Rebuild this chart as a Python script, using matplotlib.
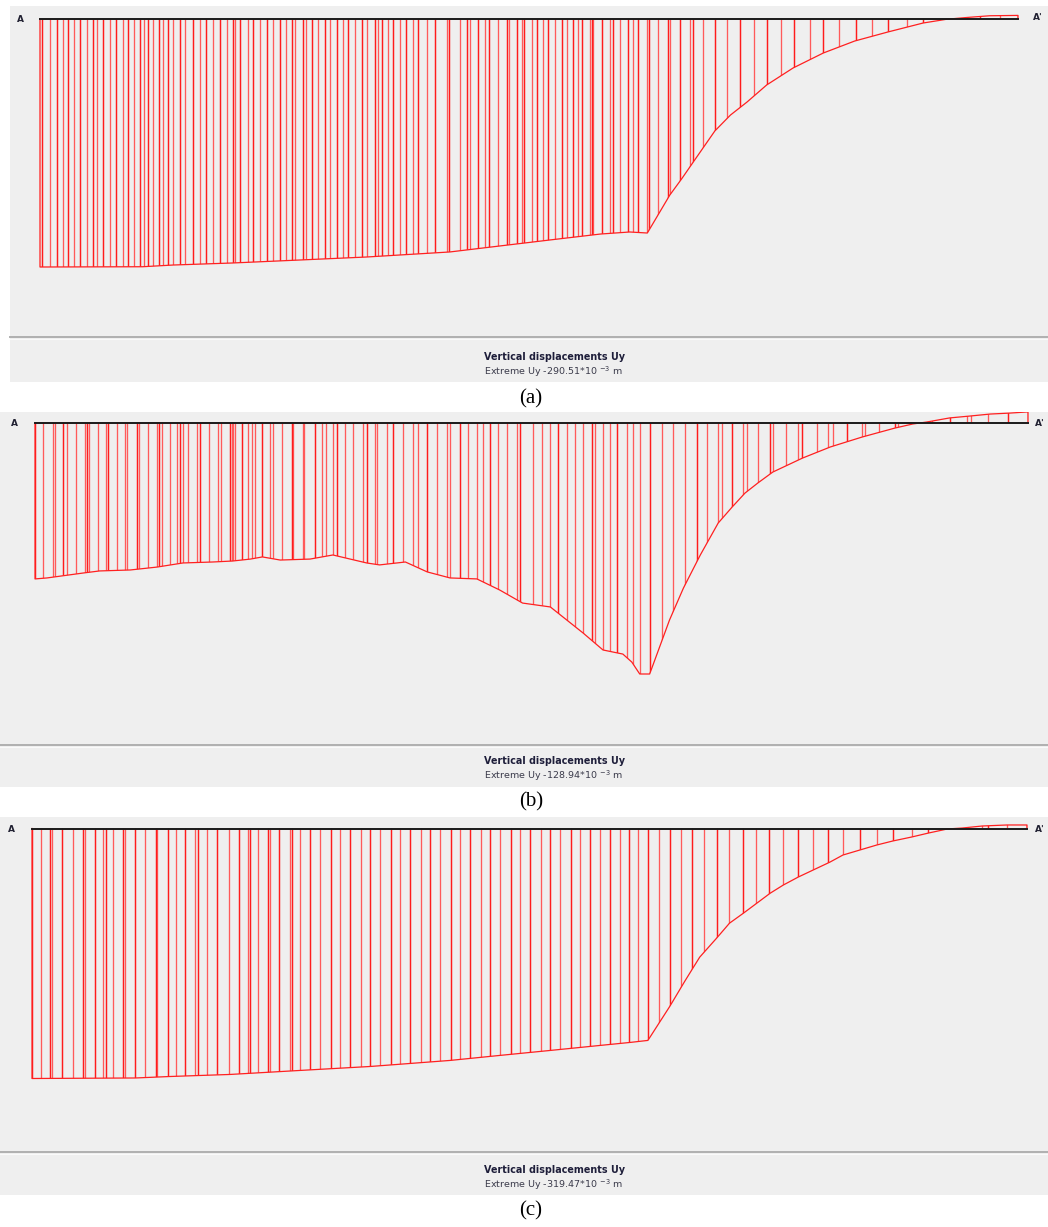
import matplotlib
matplotlib.use("Agg")
import matplotlib.pyplot as plt
from matplotlib.patches import Rectangle, Polygon

W, H = 1048, 1227
SECTION_LENGTH = 100.0  # m, A -> A'

# ---------------------------------------------------------------------
# data: distance along A-A' (m) and vertical displacement Uy (mm)
# ---------------------------------------------------------------------
dist_a = [0.0, 10.5, 13.6, 19.7, 26.6, 33.4, 41.9, 47.0, 52.1, 57.3, 60.3, 62.1, 64.4, 65.6,
          66.8, 69.0, 70.6, 72.3, 74.3, 77.0, 80.1, 83.3, 86.7, 90.3, 92.7, 94.8, 97.1, 100.0]
uy_a = [-290.51, -290.2, -288.2, -285.8, -282.3, -278.8, -272.9, -265.9, -258.9, -251.9, -249.5,
        -250.7, -206.2, -187.4, -167.5, -131.2, -112.5, -97.2, -77.3, -57.4, -39.8, -25.8, -15.2,
        -4.7, -0.3, 1.8, 3.8, 4.2]
nodes_a = [0.2, 1.0, 1.7, 2.4, 2.9, 3.5, 4.1, 4.8, 5.4, 5.8, 6.4, 7.2, 7.8, 8.5, 9.0, 9.6, 10.2,
           10.6, 11.0, 11.6, 12.2, 12.6, 13.1, 13.6, 14.3, 14.8, 15.6, 16.4, 17.0, 17.7, 18.4,
           19.1, 19.7, 19.9, 20.4, 21.3, 21.8, 22.5, 23.2, 23.8, 24.5, 25.2, 25.8, 26.1, 26.9,
           27.2, 27.8, 28.4, 29.1, 29.7, 30.4, 31.0, 31.5, 32.2, 32.9, 33.4, 34.3, 34.6, 35.0,
           35.6, 36.1, 36.8, 37.4, 38.1, 38.7, 39.6, 40.4, 41.6, 41.8, 42.9, 43.7, 44.0, 44.8,
           45.5, 45.9, 46.8, 47.8, 48.0, 48.8, 49.3, 49.5, 50.3, 50.8, 51.4, 51.9, 52.7, 53.4,
           53.9, 54.5, 55.0, 55.4, 56.2, 56.4, 56.5, 57.5, 58.3, 58.6, 59.3, 60.1, 60.6, 61.1,
           62.1, 62.3, 63.2, 64.2, 64.4, 65.4, 66.5, 66.8, 67.8, 69.0, 70.2, 71.6, 73.0, 74.3,
           75.8, 77.1, 78.7, 80.1, 81.7, 83.4, 85.1, 86.7, 88.7, 90.3, 92.0, 92.7, 94.8, 96.1,
           98.2, 100.0]
extreme_a = -290.51

dist_b = [0.0, 1.2, 4.8, 6.5, 9.6, 12.3, 14.9, 17.9, 19.9, 21.7, 22.9, 24.7, 27.7, 30.0, 33.4,
          34.7, 37.3, 39.5, 41.8, 44.5, 46.8, 49.1, 51.9, 55.2, 57.2, 59.2, 60.1, 60.9, 61.9,
          63.9, 65.3, 67.0, 68.8, 70.2, 71.5, 72.8, 74.3, 77.3, 80.1, 83.3, 86.6, 88.4, 89.8,
          92.1, 94.2, 96.2, 98.2, 100.0]
uy_b = [-80.1, -79.6, -77.1, -76.0, -75.5, -74.0, -71.9, -71.4, -70.9, -69.9, -68.8, -70.4,
        -69.9, -67.8, -71.9, -72.9, -71.4, -76.5, -79.6, -80.1, -85.8, -92.5, -94.5, -107.9,
        -116.6, -118.7, -122.8, -128.94, -128.94, -101.2, -84.8, -67.8, -51.4, -43.2, -36.0,
        -30.8, -25.2, -18.0, -12.3, -7.2, -2.6, -0.5, 0.5, 2.6, 3.6, 4.6, 5.1, 5.7]
nodes_b = [0.0, 0.8, 1.8, 2.0, 2.8, 3.2, 4.1, 5.0, 5.2, 5.4, 6.3, 7.2, 7.4, 8.3, 9.1, 9.3, 10.3,
           10.5, 11.4, 12.3, 12.5, 12.8, 13.6, 14.3, 14.6, 14.9, 15.4, 16.3, 16.6, 17.5, 18.4,
           18.7, 19.6, 19.8, 19.9, 20.1, 20.8, 21.5, 21.9, 22.2, 22.9, 23.7, 24.0, 24.9, 25.9,
           26.0, 27.0, 27.1, 28.2, 28.9, 29.3, 30.0, 30.4, 31.2, 32.0, 33.0, 33.4, 34.2, 34.4,
           35.4, 36.1, 37.1, 38.1, 38.6, 39.5, 40.5, 41.5, 41.8, 42.8, 43.6, 44.5, 45.1, 45.8,
           46.6, 47.5, 48.5, 48.8, 50.2, 51.1, 51.9, 52.7, 53.6, 54.4, 55.2, 56.1, 56.4, 57.2,
           57.9, 58.6, 59.6, 60.2, 60.9, 61.9, 63.1, 64.2, 65.5, 66.7, 67.7, 68.8, 69.2, 70.2,
           71.3, 71.7, 72.8, 74.0, 74.3, 75.6, 76.8, 77.2, 78.8, 79.9, 80.4, 81.8, 83.3, 83.6,
           85.0, 86.6, 86.9, 89.8, 90.3, 92.1, 93.9, 94.3, 96.0, 98.0, 100.0]
extreme_b = -128.94

dist_c = [0.0, 10.4, 13.9, 19.9, 26.9, 34.0, 42.0, 47.0, 52.1, 57.1, 60.1, 61.9, 64.1, 65.6,
          67.1, 68.8, 70.1, 71.5, 74.2, 75.5, 77.0, 80.2, 81.5, 84.9, 86.5, 88.4, 90.1, 92.0,
          93.5, 95.5, 98.0, 100.0]
uy_c = [-319.47, -318.8, -316.9, -314.3, -309.2, -304.1, -296.4, -290.0, -283.6, -277.2,
        -273.4, -270.8, -227.3, -195.3, -164.5, -140.2, -121.0, -108.2, -82.6, -72.3, -62.1,
        -42.9, -33.9, -21.1, -16.0, -10.9, -5.8, -0.6, 0.6, 3.2, 4.5, 4.5]
nodes_c = [0.0, 0.9, 1.8, 2.0, 3.0, 4.1, 5.1, 5.3, 6.3, 7.1, 7.4, 8.1, 9.1, 9.3, 10.4, 11.4,
           12.5, 12.6, 13.7, 14.5, 15.4, 16.4, 16.7, 17.6, 18.6, 19.8, 20.8, 21.7, 21.9, 22.7,
           23.7, 23.9, 24.8, 25.9, 26.1, 26.9, 27.9, 28.9, 30.1, 31.0, 32.0, 33.1, 34.0, 35.0,
           36.1, 37.0, 38.0, 39.1, 40.0, 41.0, 42.1, 43.0, 44.0, 45.1, 46.0, 47.0, 48.1, 49.0,
           50.1, 51.2, 52.1, 53.1, 54.2, 55.1, 56.1, 57.1, 58.1, 59.1, 60.0, 60.9, 61.9, 63.0,
           64.1, 65.2, 66.3, 67.5, 68.8, 70.1, 71.5, 72.8, 74.1, 75.5, 77.0, 78.5, 80.0, 81.5,
           83.2, 84.9, 86.5, 88.4, 90.1, 92.0, 93.5, 95.5, 96.1, 98.0, 100.0]
extreme_c = -319.47

panel_tags = ["(a)", "(b)", "(c)"]

# ---------------------------------------------------------------------
# layout of the three PLAXIS output windows (pixels)
# ---------------------------------------------------------------------
panels = [
    dict(dist=dist_a, uy=uy_a, nodes=nodes_a, extreme=extreme_a, tag=panel_tags[0],
         box=(10, 6, 1048, 382), sep=337, sec=(40, 1018), base=19.0, depth=248,
         lab_l=(20, 20), lab_r=(1033, 17), title_y=357, cap_y=399, strong=2),
    dict(dist=dist_b, uy=uy_b, nodes=nodes_b, extreme=extreme_b, tag=panel_tags[1],
         box=(0, 412, 1048, 787), sep=745, sec=(35, 1028), base=423.0, depth=251,
         lab_l=(14, 423), lab_r=(1035, 423), title_y=761, cap_y=802, strong=4),
    dict(dist=dist_c, uy=uy_c, nodes=nodes_c, extreme=extreme_c, tag=panel_tags[2],
         box=(0, 817, 1048, 1195), sep=1152, sec=(32, 1027), base=828.5, depth=250,
         lab_l=(11, 830), lab_r=(1035, 830), title_y=1170, cap_y=1211, strong=2),
]

fig = plt.figure(figsize=(W / 100, H / 100), dpi=100)
fig.patch.set_facecolor("white")


def fx(x):
    return x / W


def fy(y):
    return 1 - y / H


for p in panels:
    x0, y0, x1, y1 = p["box"]
    # window background + separator above the legend strip
    fig.add_artist(Rectangle((fx(x0), fy(y1)), fx(x1 - x0), (y1 - y0) / H,
                             transform=fig.transFigure, facecolor="#efefef",
                             edgecolor="none", zorder=0))
    fig.add_artist(plt.Line2D([fx(x0), fx(x1)], [fy(p["sep"]), fy(p["sep"])],
                              transform=fig.transFigure, color="#b0b0b0", lw=1.4, zorder=1))
    fig.add_artist(plt.Line2D([fx(x0), fx(x1)], [fy(p["sep"] + 1.5), fy(p["sep"] + 1.5)],
                              transform=fig.transFigure, color="#fafafa", lw=0.8, zorder=1))

    ax = fig.add_axes([fx(x0), fy(p["sep"]), fx(x1 - x0), (p["sep"] - y0) / H])
    ax.set_axis_off()
    px_per_m = (p["sec"][1] - p["sec"][0]) / SECTION_LENGTH
    mm_per_px = abs(p["extreme"]) / p["depth"]
    ax.set_xlim((x0 - p["sec"][0]) / px_per_m, (x1 - p["sec"][0]) / px_per_m)
    ymin = (p["base"] - p["sep"]) * mm_per_px
    ymax = (p["base"] - y0) * mm_per_px
    ax.set_ylim(ymin, ymax)

    d = p["dist"]
    u = p["uy"]
    verts = [(0.0, 0.0)] + list(zip(d, u)) + [(SECTION_LENGTH, 0.0)]
    poly = Polygon(verts, closed=True, facecolor="none", edgecolor="none")
    ax.add_patch(poly)

    # hatching at the mesh nodes, clipped to the displacement diagram
    nodes = p["nodes"]
    weak = [x for i, x in enumerate(nodes) if i % p["strong"] != 0]
    strong = [x for i, x in enumerate(nodes) if i % p["strong"] == 0]
    lc1 = ax.vlines(weak, ymin, ymax, colors="#ff5a5a", linewidth=0.95, zorder=2)
    lc1.set_clip_path(poly)
    lc2 = ax.vlines(strong, ymin, ymax, colors="#ff1c1c", linewidth=1.05, zorder=2)
    lc2.set_clip_path(poly)

    ax.plot([0.0] + d + [SECTION_LENGTH], [0.0] + u + [0.0], color="#ff2020",
            lw=0.9, zorder=3)
    ax.plot([0.0, SECTION_LENGTH], [0.0, 0.0], color="#1a1a1a", lw=1.4, zorder=4)

    # section labels
    fig.text(fx(p["lab_l"][0]), fy(p["lab_l"][1]), "A", fontsize=6.5, fontweight="bold",
             color="#222233", ha="center", va="center")
    fig.text(fx(p["lab_r"][0]), fy(p["lab_r"][1]), "A'", fontsize=6.5, fontweight="bold",
             color="#222233", ha="left", va="center")

    # legend strip
    fig.text(fx(555), fy(p["title_y"]), "Vertical displacements Uy", fontsize=6.9,
             fontweight="bold", color="#1e1e3a", ha="center", va="center")
    fig.text(fx(553), fy(p["title_y"] + 15),
             "Extreme Uy %.2f*10 $^{\\mathregular{-3}}$ m" % p["extreme"],
             fontsize=6.8, color="#3a3a4a", ha="center", va="center")

    fig.text(fx(531), fy(p["cap_y"]), p["tag"], fontsize=15, family="Liberation Serif",
             color="black", ha="center", va="center")

plt.savefig("out.png", dpi=100)
print("Saved: out.png")
